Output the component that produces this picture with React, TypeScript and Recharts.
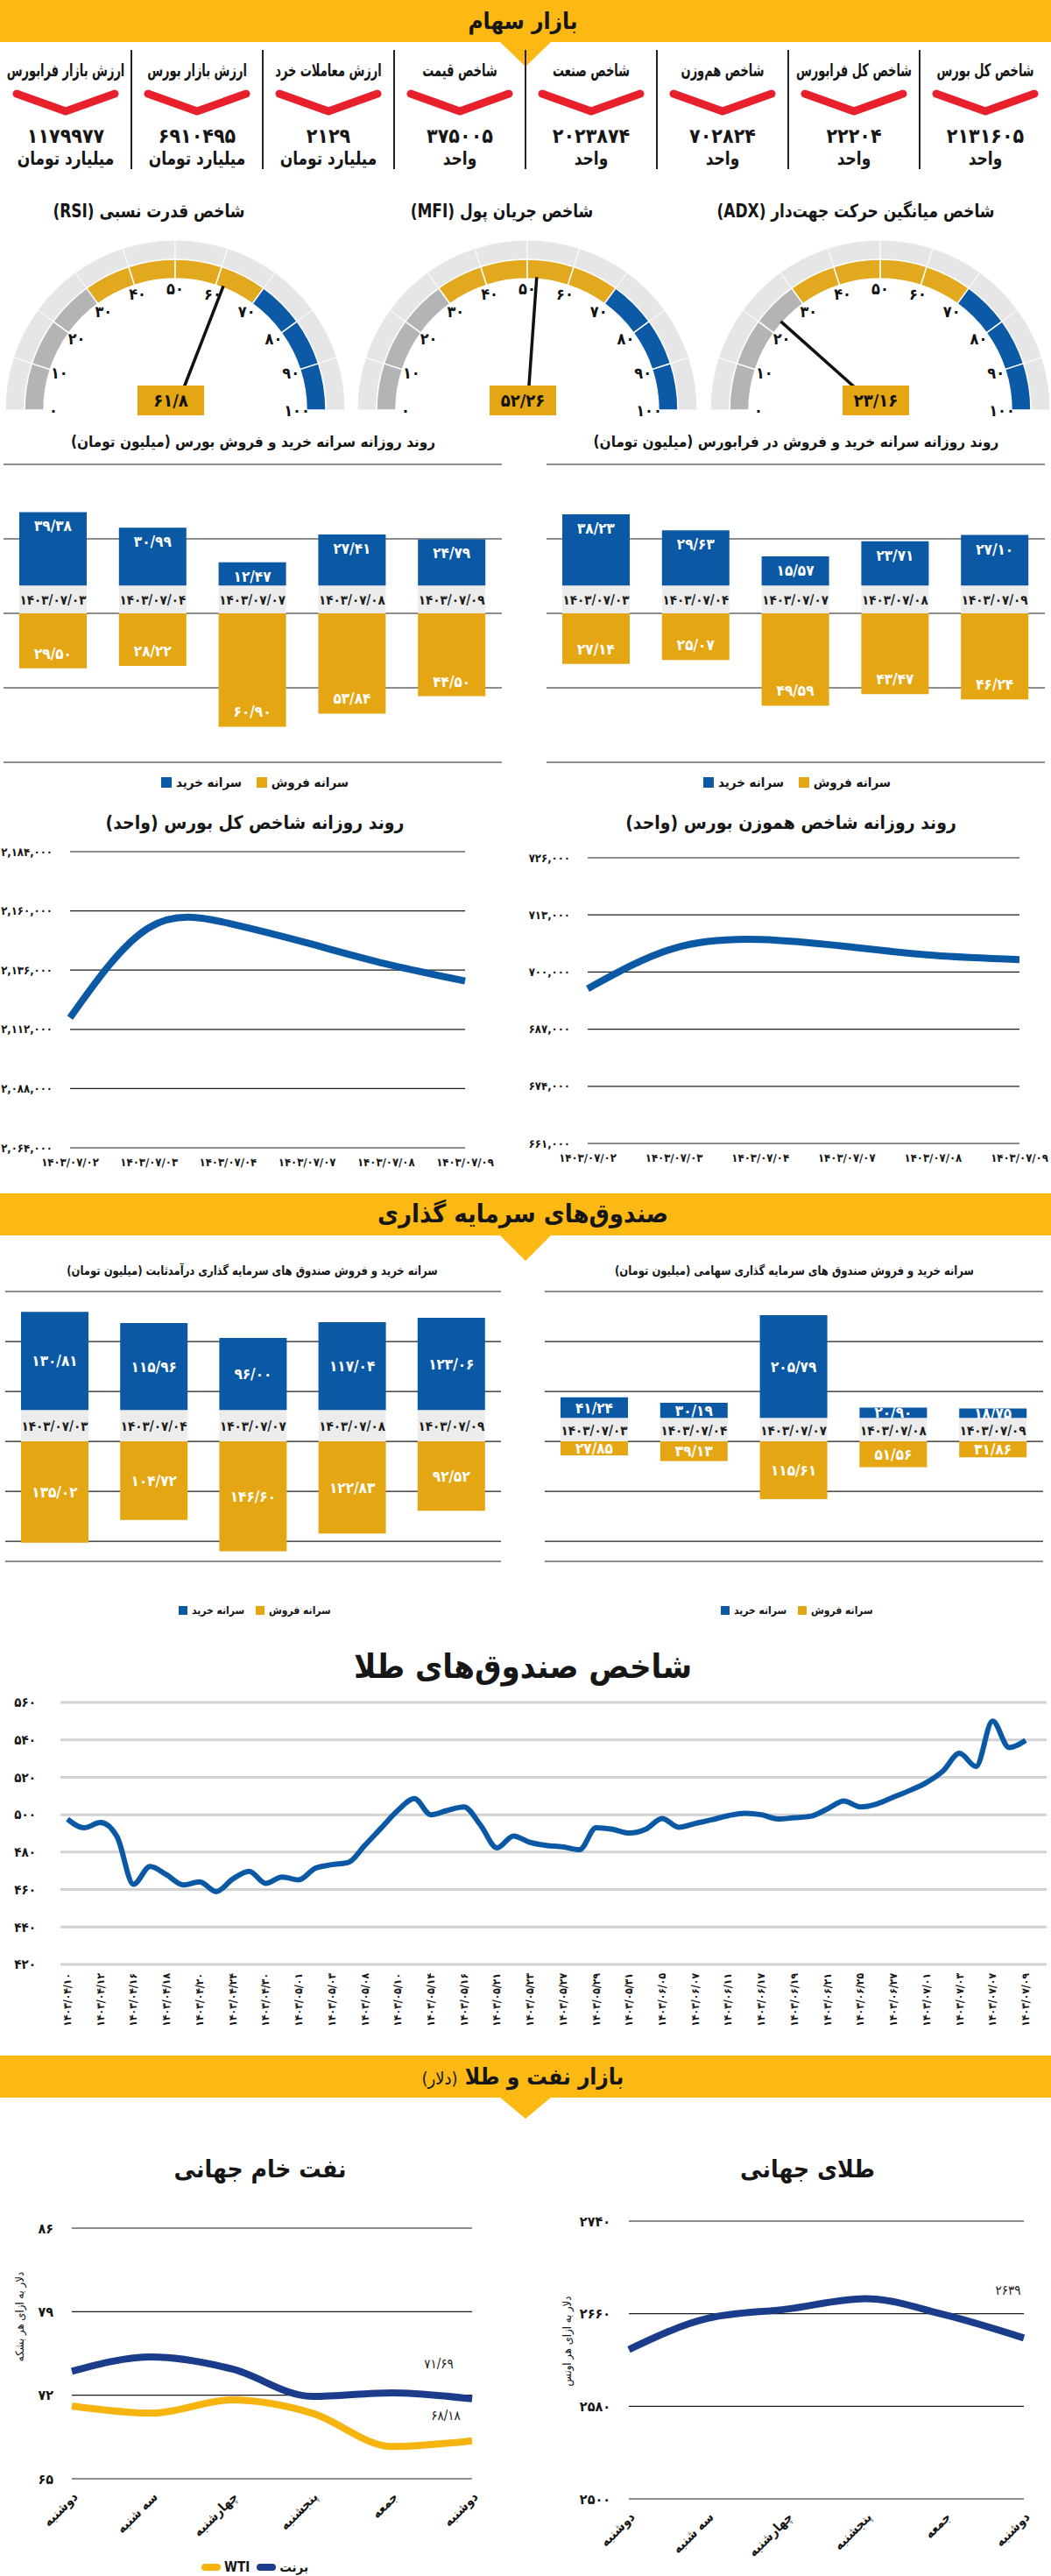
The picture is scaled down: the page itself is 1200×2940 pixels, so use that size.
import React from "react";
import {
  BarChart,
  Bar,
  LineChart,
  Line,
  XAxis,
  YAxis,
  CartesianGrid,
  LabelList,
  PieChart,
  Pie,
  Cell,
} from "recharts";

const FONT = "'DejaVu Sans Condensed', 'DejaVu Sans', sans-serif";
const HEADER = "#fdb913";
const BLUE = "#0b58a5";
const GOLD = "#e5a614";
const NAVY = "#1a3c8b";
const WTI_COLOR = "#f6b40f";
const RED = "#e8202c";
const INK = "#161616";

// ---- data ----
// stat row, right to left
const statTitles = [
  "شاخص کل بورس",
  "شاخص کل فرابورس",
  "شاخص هم‌وزن",
  "شاخص صنعت",
  "شاخص قیمت",
  "ارزش معاملات خرد",
  "ارزش بازار بورس",
  "ارزش بازار فرابورس",
];
const statValues = [2131605, 22204, 702824, 2023874, 375005, 2129, 6910495, 1179977];
const statUnits = ["واحد", "واحد", "واحد", "واحد", "واحد", "میلیارد تومان", "میلیارد تومان", "میلیارد تومان"];

const gaugeTitles = ["شاخص قدرت نسبی (RSI)", "شاخص جریان پول (MFI)", "شاخص میانگین حرکت جهت‌دار (ADX)"];
const gaugeValues = [61.8, 52.26, 23.16];
const gaugeTicks = [0, 10, 20, 30, 40, 50, 60, 70, 80, 90, 100];

const tradeDates = ["1403/07/03", "1403/07/04", "1403/07/07", "1403/07/08", "1403/07/09"];
const bourseBuy = [39.38, 30.99, 12.47, 27.41, 24.79];
const bourseSell = [29.5, 28.22, 60.9, 53.84, 44.5];
const faraBuy = [38.23, 29.63, 15.57, 23.71, 27.1];
const faraSell = [27.14, 25.07, 49.59, 43.47, 46.24];

const indexDates = ["1403/07/02", "1403/07/03", "1403/07/04", "1403/07/07", "1403/07/08", "1403/07/09"];
const totalIndex = [2116700, 2153200, 2155000, 2147000, 2138500, 2131605];
const equalIndex = [696200, 705400, 707400, 705800, 703800, 702824];

const fixedBuy = [130.81, 115.96, 96.0, 117.04, 123.06];
const fixedSell = [135.02, 104.72, 146.6, 122.83, 92.52];
const equityBuy = [41.24, 30.19, 205.79, 20.9, 18.75];
const equitySell = [27.85, 39.13, 115.61, 51.56, 31.86];

const goldFundDates = [
  "1403/04/10", "1403/04/12", "1403/04/16", "1403/04/18", "1403/04/20", "1403/04/24",
  "1403/04/30", "1403/05/01", "1403/05/03", "1403/05/08", "1403/05/10", "1403/05/14",
  "1403/05/16", "1403/05/21", "1403/05/23", "1403/05/27", "1403/05/29", "1403/05/31",
  "1403/06/05", "1403/06/07", "1403/06/11", "1403/06/17", "1403/06/19", "1403/06/21",
  "1403/06/25", "1403/06/27", "1403/07/01", "1403/07/03", "1403/07/07", "1403/07/09",
];
const goldFundIndex = [
  497.7, 493.0, 495.8, 488.3, 462.8, 472.3, 467.9, 462.5, 464.1, 458.9,
  465.6, 469.8, 463.3, 466.7, 465.2, 471.4, 473.3, 474.5, 483.6, 493.0,
  502.3, 508.6, 500.0, 502.3, 504.2, 494.5, 482.3, 488.6, 485.2, 483.6,
  482.8, 481.3, 493.0, 492.2, 490.2, 492.2, 498.0, 493.3, 495.3, 497.3,
  499.5, 500.8, 500.0, 497.7, 498.4, 499.2, 503.1, 507.3, 504.2, 505.8,
  509.4, 513.0, 517.2, 523.4, 532.8, 525.8, 550.0, 535.9, 539.8,
];

const weekDays = ["دوشنبه", "سه شنبه", "چهارشنبه", "پنجشنبه", "جمعه", "دوشنبه"];
const brent = [74.0, 75.2, 74.2, 71.9, 72.2, 71.69];
const wti = [71.1, 70.5, 71.6, 70.5, 67.7, 68.18];
const goldOunce = [2629, 2656, 2664, 2673, 2659, 2639];

// ---- helpers ----
const FA_DIGITS = "۰۱۲۳۴۵۶۷۸۹";
const fa = (s: string | number) => String(s).replace(/[0-9]/g, (d) => FA_DIGITS[Number(d)]);
const faDec = (v: number, n = 2) => fa(Math.abs(v).toFixed(n).replace(".", "/"));
const faComma = (v: number) => fa(v.toLocaleString("en-US"));
const RAD = Math.PI / 180;
const polar = (cx: number, cy: number, r: number, deg: number) => [cx + r * Math.cos(-deg * RAD), cy + r * Math.sin(-deg * RAD)];

function Txt({ x, y, size, children, weight = 700, color = INK, w = 700, sx = 1 }: any) {
  return (
    <div
      dir="rtl"
      style={{
        position: "absolute",
        left: x - w / 2,
        top: y - size * 0.75,
        width: w,
        height: size * 1.5,
        lineHeight: `${size * 1.5}px`,
        textAlign: "center",
        fontSize: size,
        fontWeight: weight,
        color,
        whiteSpace: "nowrap",
        transform: sx !== 1 ? `scaleX(${sx})` : undefined,
      }}
    >
      {children}
    </div>
  );
}

function SectionHeader({ top, tip, children, size }: any) {
  return (
    <>
      <div style={{ position: "absolute", left: 0, top, width: 1200, height: 48, background: HEADER }} />
      <svg style={{ position: "absolute", left: 560, top: top + 47 }} width={80} height={tip + 2}>
        <polygon points={`10,0 70,0 40,${tip}`} fill={HEADER} />
      </svg>
      <Txt x={597} y={top + 24} size={size}>{children}</Txt>
    </>
  );
}

function StatRow() {
  return (
    <>
      {statTitles.map((t, i) => {
        const cx = 1125 - i * 150;
        return (
          <React.Fragment key={t}>
            <Txt x={cx} y={80} size={20} sx={0.72}>{t}</Txt>
            <svg style={{ position: "absolute", left: cx - 65, top: 98 }} width={130} height={40}>
              <polyline points="9,9 65,29 121,9" fill="none" stroke={RED} strokeWidth={9} strokeLinecap="round" strokeLinejoin="round" />
            </svg>
            <Txt x={cx} y={155} size={23}>{fa(statValues[i])}</Txt>
            <Txt x={cx} y={182} size={21} sx={0.9}>{statUnits[i]}</Txt>
          </React.Fragment>
        );
      })}
      {[150, 300, 450, 600, 750, 900, 1050].map((x) => (
        <div key={x} style={{ position: "absolute", left: x - 1, top: 57, width: 2, height: 136, background: "#222" }} />
      ))}
    </>
  );
}

const zoneColor = (v: number) => (v < 30 ? "#b4b4b4" : v < 70 ? "#e2a81e" : "#0c5aa6");

function Gauge({ cx, value, title, titleX }: any) {
  const segs = gaugeTicks.slice(0, -1).map((t, i) => ({ from: t, to: gaugeTicks[i + 1], size: gaugeTicks[i + 1] - t }));
  const needle = [{ size: value }, { size: 100 - value }];
  const tickLabel = (p: any) => {
    const s = segs[p.index];
    const items: [number, number][] = [[s.from, p.startAngle]];
    if (p.index === segs.length - 1) items.push([s.to, p.endAngle]);
    return (
      <g key={`t${p.index}`}>
        {items.map(([v, a]) => {
          const [x, y] = polar(p.cx, p.cy, 139, a);
          return (
            <text key={v} x={x} y={y} textAnchor="middle" dominantBaseline="central" fontSize={18} fontWeight={700} fill="#111" fontFamily={FONT}>
              {fa(v)}
            </text>
          );
        })}
      </g>
    );
  };
  const needleLabel = (p: any) => {
    if (p.index !== 0) return <g key="n1" />;
    const [x, y] = polar(p.cx, p.cy, 152, p.endAngle);
    return <line key="n0" x1={p.cx} y1={p.cy} x2={x} y2={y} stroke="#111" strokeWidth={3.5} />;
  };
  return (
    <>
      <Txt x={titleX} y={242} size={21} sx={0.9}>{title}</Txt>
      <div style={{ position: "absolute", left: cx - 200, top: 233 }}>
        <PieChart width={400} height={245}>
          <Pie data={segs} dataKey="size" cx={200} cy={230} startAngle={180} endAngle={0} innerRadius={172} outerRadius={194} fill="#e6e6e6" stroke="#fff" strokeWidth={1} isAnimationActive={false} />
          <Pie data={segs} dataKey="size" cx={200} cy={230} startAngle={180} endAngle={0} innerRadius={150} outerRadius={172} stroke="#fff" strokeWidth={1.5} isAnimationActive={false} label={tickLabel} labelLine={false}>
            {segs.map((s) => (
              <Cell key={s.from} fill={zoneColor(s.from)} />
            ))}
          </Pie>
          <Pie data={needle} dataKey="size" cx={200} cy={230} startAngle={180} endAngle={0} innerRadius={0} outerRadius={152} fill="none" stroke="none" isAnimationActive={false} label={needleLabel} labelLine={false} />
        </PieChart>
      </div>
      <div style={{ position: "absolute", left: cx - 38, top: 440, width: 76, height: 34, background: GOLD, textAlign: "center", lineHeight: "34px", fontSize: 20, fontWeight: 700, color: "#111" }}>
        {fa(String(value).replace(".", "/"))}
      </div>
    </>
  );
}

function BuySellChart({ left, top, width, height, margin, buy, sell, band, domain, grid, centered }: any) {
  const rows = tradeDates.map((d, i) => ({ date: fa(d), band, buy: buy[i], sell: -sell[i], sellAbs: sell[i] }));
  const dateLabel = (p: any) => (
    <text key={`d${p.index}`} x={p.x + p.width / 2} y={p.y + p.height / 2 + 1} textAnchor="middle" dominantBaseline="central" fontSize={15} fontWeight={700} fill="#1b1b1b" fontFamily={FONT}>
      {p.value}
    </text>
  );
  const valueLabel = (end: "top" | "bottom") => (p: any) => {
    const y0 = Math.min(p.y, p.y + p.height);
    const y1 = Math.max(p.y, p.y + p.height);
    const y = centered ? (y0 + y1) / 2 : end === "top" ? y0 + 16 : y1 - 17;
    return (
      <text key={`${end}${p.index}`} x={p.x + p.width / 2} y={y} textAnchor="middle" dominantBaseline="central" fontSize={17} fontWeight={700} fill="#fff" fontFamily={FONT}>
        {faDec(p.value)}
      </text>
    );
  };
  return (
    <div style={{ position: "absolute", left, top }}>
      <BarChart width={width} height={height} data={rows} margin={margin} stackOffset="sign" barSize={77}>
        <CartesianGrid vertical={false} stroke="#1d1d1d" strokeWidth={1.2} />
        <XAxis dataKey="date" hide />
        <YAxis hide type="number" domain={domain} ticks={grid} allowDataOverflow />
        <Bar dataKey="band" stackId="s" fill="#ececec" isAnimationActive={false}>
          <LabelList dataKey="date" content={dateLabel} />
        </Bar>
        <Bar dataKey="buy" stackId="s" fill={BLUE} isAnimationActive={false}>
          <LabelList dataKey="buy" content={valueLabel("top")} />
        </Bar>
        <Bar dataKey="sell" stackId="s" fill={GOLD} isAnimationActive={false}>
          <LabelList dataKey="sellAbs" content={valueLabel("bottom")} />
        </Bar>
      </BarChart>
    </div>
  );
}

function BuySellLegend({ x, y, size }: any) {
  const items = [
    { name: "سرانه فروش", color: GOLD },
    { name: "سرانه خرید", color: BLUE },
  ];
  return (
    <div dir="rtl" style={{ position: "absolute", left: x - 150, top: y - size, width: 300, height: size * 2, display: "flex", justifyContent: "center", alignItems: "center", gap: size * 1.1, fontSize: size, fontWeight: 700 }}>
      {items.map((it) => (
        <span key={it.name} style={{ display: "flex", alignItems: "center", gap: 5 }}>
          <span>{it.name}</span>
          <span style={{ width: size * 0.8, height: size * 0.8, background: it.color, display: "inline-block" }} />
        </span>
      ))}
    </div>
  );
}

const tickStyle = (size: number) => ({ fontSize: size, fontWeight: 700, fill: INK, fontFamily: FONT });

function IndexChart({ left, top, width, height, yWidth, rightM, values, domain, ticks }: any) {
  const rows = indexDates.map((d, i) => ({ date: fa(d), v: values[i] }));
  return (
    <div style={{ position: "absolute", left, top }}>
      <LineChart width={width} height={height} data={rows} margin={{ top: 12, right: rightM, left: 0, bottom: 0 }}>
        <CartesianGrid vertical={false} stroke="#1d1d1d" strokeWidth={1.2} />
        <XAxis dataKey="date" axisLine={false} tickLine={false} height={30} interval={0} tick={tickStyle(13)} tickMargin={6} />
        <YAxis type="number" domain={domain} ticks={ticks} width={yWidth} axisLine={false} tickLine={false} tickMargin={14} tick={tickStyle(13)} tickFormatter={faComma} />
        <Line type="natural" dataKey="v" stroke={BLUE} strokeWidth={8} dot={false} activeDot={false} isAnimationActive={false} />
      </LineChart>
    </div>
  );
}

const FundDateTick = ({ x, y, payload }: any) => (
  <text x={x} y={y + 2} transform={`rotate(-90, ${x}, ${y + 2})`} textAnchor="end" dominantBaseline="central" fontSize={12} fontWeight={700} fill={INK} fontFamily={FONT}>
    {fa(goldFundDates[payload.value / 2])}
  </text>
);

const DayTick = ({ x, y, payload }: any) => (
  <text x={x + 4} y={y + 10} transform={`rotate(-45, ${x + 4}, ${y + 10})`} textAnchor="end" dominantBaseline="central" fontSize={15} fontWeight={700} fill={INK} fontFamily={FONT}>
    {payload.value}
  </text>
);

const endLabel = (last: number, dx: number, dy: number, text: string) => (p: any) =>
  p.index === last ? (
    <text key="end" x={p.x + dx} y={p.y + dy} textAnchor="middle" dominantBaseline="central" fontSize={15} fill="#222" fontFamily={FONT}>
      {text}
    </text>
  ) : null;

function VTitle({ x, y, children }: any) {
  return (
    <div dir="rtl" style={{ position: "absolute", left: x - 100, top: y - 10, width: 200, height: 20, lineHeight: "20px", textAlign: "center", fontSize: 13, transform: "rotate(-90deg)", whiteSpace: "nowrap" }}>
      {children}
    </div>
  );
}

export default function App() {
  const goldFundRows = goldFundIndex.map((v, i) => ({ i, v }));
  const goldFundTicks = goldFundDates.map((_, k) => k * 2);
  const oilRows = weekDays.map((d, i) => ({ day: d, brent: brent[i], wti: wti[i] }));
  const goldRows = weekDays.map((d, i) => ({ day: d, gold: goldOunce[i] }));

  return (
    <div style={{ position: "absolute", left: 0, top: 0, width: 1200, height: 2940, background: "#fff", fontFamily: FONT, color: INK, overflow: "hidden" }}>
      {/* بازار سهام */}
      <SectionHeader top={0} tip={29} size={26}>بازار سهام</SectionHeader>
      <StatRow />

      {gaugeValues.map((v, i) => (
        <Gauge key={i} cx={[195, 597, 1000][i]} titleX={[170, 573, 977][i]} value={v} title={gaugeTitles[i]} />
      ))}

      <Txt x={289} y={505} size={17}>روند روزانه سرانه خرید و فروش بورس (میلیون تومان)</Txt>
      <Txt x={909} y={505} size={17}>روند روزانه سرانه خرید و فروش در فرابورس (میلیون تومان)</Txt>
      <BuySellChart left={0} top={520} width={590} height={360} margin={{ top: 10, bottom: 10, left: 4, right: 17 }} buy={bourseBuy} sell={bourseSell} band={15} domain={[-80, 80]} grid={[-80, -40, 0, 40, 80]} />
      <BuySellChart left={600} top={520} width={600} height={360} margin={{ top: 10, bottom: 10, left: 24, right: 7 }} buy={faraBuy} sell={faraSell} band={15} domain={[-80, 80]} grid={[-80, -40, 0, 40, 80]} />
      <BuySellLegend x={291} y={893} size={15} />
      <BuySellLegend x={910} y={893} size={15} />

      <Txt x={291} y={940} size={21}>روند روزانه شاخص کل بورس (واحد)</Txt>
      <Txt x={903} y={940} size={21}>روند روزانه شاخص هموزن بورس (واحد)</Txt>
      <IndexChart left={0} top={960} width={595} height={380} yWidth={80} rightM={64} values={totalIndex} domain={[2064000, 2184000]} ticks={[2064000, 2088000, 2112000, 2136000, 2160000, 2184000]} />
      <IndexChart left={600} top={967} width={600} height={368} yWidth={71} rightM={36} values={equalIndex} domain={[661000, 726000]} ticks={[661000, 674000, 687000, 700000, 713000, 726000]} />

      {/* صندوق‌های سرمایه گذاری */}
      <SectionHeader top={1362} tip={30} size={29}>صندوق‌های سرمایه گذاری</SectionHeader>
      <Txt x={288} y={1450} size={14} sx={0.92}>سرانه خرید و فروش صندوق های سرمایه گذاری درآمدثابت (میلیون تومان)</Txt>
      <Txt x={907} y={1450} size={14} sx={0.92}>سرانه خرید و فروش صندوق های سرمایه گذاری سهامی (میلیون تومان)</Txt>
      <BuySellChart left={0} top={1464} width={590} height={328} margin={{ top: 10, bottom: 10, left: 6, right: 18 }} buy={fixedBuy} sell={fixedSell} band={42} domain={[-160, 200]} grid={[-400 / 3, -200 / 3, 0, 200 / 3, 400 / 3, 200]} centered />
      <BuySellChart left={600} top={1464} width={600} height={328} margin={{ top: 10, bottom: 10, left: 22, right: 9 }} buy={equityBuy} sell={equitySell} band={47} domain={[-240, 300]} grid={[-200, -100, 0, 100, 200, 300]} centered />
      <BuySellLegend x={291} y={1838} size={12} />
      <BuySellLegend x={910} y={1838} size={12} />

      <Txt x={597} y={1902} size={38}>شاخص صندوق‌های طلا</Txt>
      <div style={{ position: "absolute", left: 0, top: 1930 }}>
        <LineChart width={1200} height={397} data={goldFundRows} margin={{ top: 13, right: 5, left: 0, bottom: 0 }}>
          <CartesianGrid vertical={false} stroke="#d2d2d2" strokeWidth={3} />
          <XAxis type="number" dataKey="i" domain={[0, goldFundIndex.length - 1]} ticks={goldFundTicks} interval={0} axisLine={false} tickLine={false} height={85} padding={{ left: 8, right: 24 }} tick={<FundDateTick />} />
          <YAxis type="number" domain={[420, 560]} ticks={[420, 440, 460, 480, 500, 520, 540, 560]} width={69} axisLine={false} tickLine={false} tickMargin={22} tick={tickStyle(15)} tickFormatter={fa} />
          <Line type="monotone" dataKey="v" stroke={BLUE} strokeWidth={6} dot={false} activeDot={false} isAnimationActive={false} />
        </LineChart>
      </div>

      {/* بازار نفت و طلا */}
      <SectionHeader top={2346} tip={25} size={26}>
        بازار نفت و طلا <span style={{ fontWeight: 400, fontSize: 20 }}>(دلار)</span>
      </SectionHeader>

      <Txt x={297} y={2476} size={28}>نفت خام جهانی</Txt>
      <VTitle x={23} y={2644}>دلار به ازای هر بشکه</VTitle>
      <div style={{ position: "absolute", left: 0, top: 2530 }}>
        <LineChart width={560} height={379} data={oilRows} margin={{ top: 13, right: 21, left: 0, bottom: 0 }}>
          <CartesianGrid vertical={false} stroke="#1d1d1d" strokeWidth={1.2} />
          <XAxis dataKey="day" axisLine={false} tickLine={false} height={80} interval={0} tick={<DayTick />} />
          <YAxis type="number" domain={[65, 86]} ticks={[65, 72, 79, 86]} width={82} axisLine={false} tickLine={false} tickMargin={15} tick={tickStyle(16)} tickFormatter={fa} />
          <Line type="monotone" dataKey="wti" stroke={WTI_COLOR} strokeWidth={8} dot={false} activeDot={false} isAnimationActive={false}>
            <LabelList dataKey="wti" content={endLabel(wti.length - 1, -30, -29, faDec(wti[wti.length - 1]))} />
          </Line>
          <Line type="monotone" dataKey="brent" stroke={NAVY} strokeWidth={8} dot={false} activeDot={false} isAnimationActive={false}>
            <LabelList dataKey="brent" content={endLabel(brent.length - 1, -38, -40, faDec(brent[brent.length - 1]))} />
          </Line>
        </LineChart>
      </div>
      <div dir="rtl" style={{ position: "absolute", left: 191, top: 2918, width: 200, height: 24, display: "flex", justifyContent: "center", alignItems: "center", gap: 8, fontSize: 15, fontWeight: 700 }}>
        {[{ name: "برنت", color: NAVY }, { name: "WTI", color: WTI_COLOR }].map((it) => (
          <span key={it.name} style={{ display: "flex", alignItems: "center", gap: 4 }}>
            <span>{it.name}</span>
            <span style={{ width: 22, height: 8, borderRadius: 4, background: it.color, display: "inline-block" }} />
          </span>
        ))}
      </div>

      <Txt x={922} y={2476} size={28}>طلای جهانی</Txt>
      <VTitle x={648} y={2672}>دلار به ازای هر اونس</VTitle>
      <div style={{ position: "absolute", left: 600, top: 2522 }}>
        <LineChart width={590} height={410} data={goldRows} margin={{ top: 13, right: 21, left: 0, bottom: 0 }}>
          <CartesianGrid vertical={false} stroke="#1d1d1d" strokeWidth={1.2} />
          <XAxis dataKey="day" axisLine={false} tickLine={false} height={80} interval={0} tick={<DayTick />} />
          <YAxis type="number" domain={[2500, 2740]} ticks={[2500, 2580, 2660, 2740]} width={118} axisLine={false} tickLine={false} tickMargin={15} tick={tickStyle(16)} tickFormatter={fa} />
          <Line type="monotone" dataKey="gold" stroke={NAVY} strokeWidth={8} dot={false} activeDot={false} isAnimationActive={false}>
            <LabelList dataKey="gold" content={endLabel(goldOunce.length - 1, -18, -54, fa(goldOunce[goldOunce.length - 1]))} />
          </Line>
        </LineChart>
      </div>
    </div>
  );
}
